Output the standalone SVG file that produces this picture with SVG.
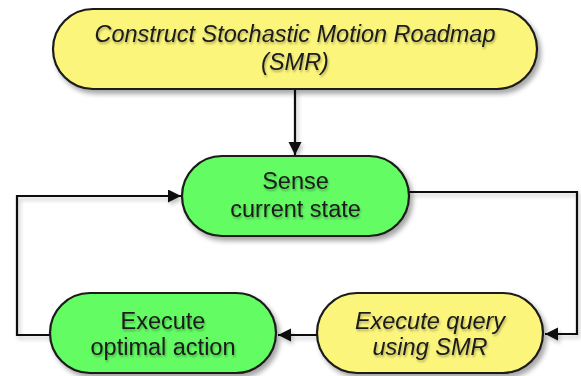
<svg xmlns="http://www.w3.org/2000/svg" width="581" height="376" viewBox="0 0 581 376">
  <style>
    .node { stroke: #1a1a1a; stroke-width: 2.2; filter: url(#shadow); }
    .yellow { fill: #fbf57b; }
    .green { fill: #63fc63; }
    .label { font-family: "Liberation Sans", Arial, sans-serif; font-size: 23.5px; fill: #1a1a1a; text-anchor: middle; filter: url(#textShadow); }
    .italic { font-style: italic; }
    .edge { fill: none; stroke: #111; stroke-width: 2.2; marker-end: url(#arrow); }
  </style>
  <defs>
    <filter id="shadow" x="-10%" y="-20%" width="130%" height="150%">
      <feGaussianBlur in="SourceAlpha" stdDeviation="2.5"/>
      <feOffset dx="3" dy="4" result="b"/>
      <feComponentTransfer><feFuncA type="linear" slope="0.35"/></feComponentTransfer>
      <feMerge><feMergeNode/><feMergeNode in="SourceGraphic"/></feMerge>
    </filter>
    <filter id="textShadow" x="-10%" y="-30%" width="120%" height="160%">
      <feGaussianBlur in="SourceAlpha" stdDeviation="1"/>
      <feOffset dx="1" dy="1.5"/>
      <feComponentTransfer><feFuncA type="linear" slope="0.3"/></feComponentTransfer>
      <feMerge><feMergeNode/><feMergeNode in="SourceGraphic"/></feMerge>
    </filter>
    <filter id="lineShadow" x="-10%" y="-10%" width="130%" height="130%">
      <feGaussianBlur in="SourceAlpha" stdDeviation="2"/>
      <feOffset dx="2" dy="3"/>
      <feComponentTransfer><feFuncA type="linear" slope="0.25"/></feComponentTransfer>
      <feMerge><feMergeNode/><feMergeNode in="SourceGraphic"/></feMerge>
    </filter>
    <marker id="arrow" markerWidth="15" markerHeight="15" refX="13" refY="6.5" orient="auto" markerUnits="userSpaceOnUse">
      <path d="M0,0 L13,6.5 L0,13 Z" fill="#111"/>
    </marker>
  </defs>

  <!-- connectors -->
  <g id="connectors" filter="url(#lineShadow)">
    <path class="edge" d="M295,89 V155"/>
    <path class="edge" d="M409,192 H577 V334 H545"/>
    <path class="edge" d="M317,335 H278"/>
    <path class="edge" d="M50,335 H17 V196 H181"/>
  </g>

  <!-- nodes -->
  <g id="construct-smr">
    <rect class="node yellow" x="53" y="9" width="484" height="80" rx="40" ry="40"/>
    <text class="label italic" x="295" y="42">Construct Stochastic Motion Roadmap</text>
    <text class="label italic" x="295" y="70">(SMR)</text>
  </g>

  <g id="sense-state">
    <rect class="node green" x="182" y="156" width="227" height="80" rx="40" ry="40"/>
    <text class="label" x="295.5" y="189">Sense</text>
    <text class="label" x="295.5" y="217">current state</text>
  </g>

  <g id="execute-query">
    <rect class="node yellow" x="317" y="293" width="226" height="80" rx="40" ry="40"/>
    <text class="label italic" x="430" y="329">Execute query</text>
    <text class="label italic" x="430" y="355">using SMR</text>
  </g>

  <g id="execute-action">
    <rect class="node green" x="50" y="293" width="226" height="80" rx="40" ry="40"/>
    <text class="label" x="163" y="329">Execute</text>
    <text class="label" x="163" y="355">optimal action</text>
  </g>
</svg>
